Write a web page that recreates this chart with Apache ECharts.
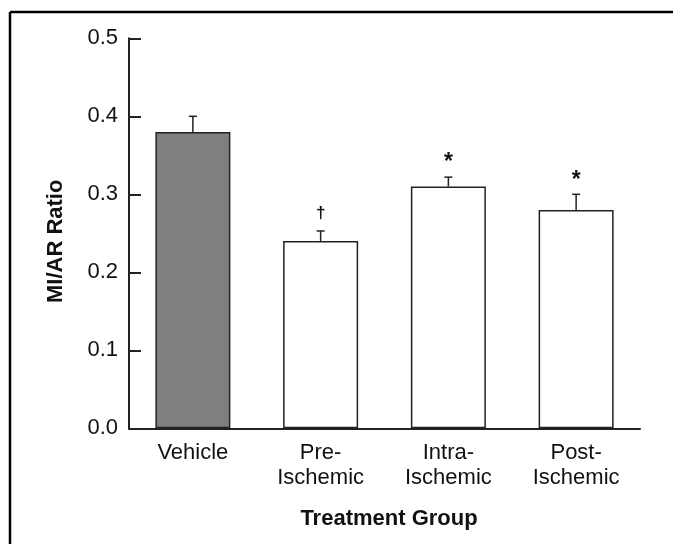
<!DOCTYPE html>
<html>
<head>
<meta charset="utf-8">
<script src="https://cdn.jsdelivr.net/npm/echarts@6/dist/echarts.min.js"></script>
<style>
  html, body { margin: 0; padding: 0; background: #fff; }
  #chart { width: 673px; height: 544px; }
</style>
</head>
<body>
<div id="chart"></div>
<script>
// ---- data ----
const categories = ['Vehicle', 'Pre-\nIschemic', 'Intra-\nIschemic', 'Post-\nIschemic'];
const meanRatio = [0.38, 0.24, 0.31, 0.28];
const semRatio = [0.02, 0.013, 0.012, 0.02];
const markers = ['', '\u2020', '*', '*'];
const yTicks = { min: 0, max: 0.5, interval: 0.1 };
const xAxisTitle = 'Treatment Group';
const yAxisTitle = 'MI/AR Ratio';

const FONT = '"Liberation Sans", Arial, Helvetica, sans-serif';
const INK = '#111111';

const chart = echarts.init(document.getElementById('chart'), null, { renderer: 'canvas' });

const errorData = categories.map((c, i) => [i, meanRatio[i], meanRatio[i] + semRatio[i]]);

const option = {
  backgroundColor: '#ffffff',
  animation: false,
  graphic: [
    { type: 'line', shape: { x1: 10, y1: 12, x2: 673, y2: 12 }, style: { stroke: '#000', lineWidth: 2.5 } },
    { type: 'line', shape: { x1: 10, y1: 12, x2: 10, y2: 544 }, style: { stroke: '#000', lineWidth: 2.5 } }
  ],
  grid: { left: 129, right: 33, top: 38.3, bottom: 115.7, containLabel: false },
  xAxis: {
    type: 'category',
    data: categories,
    name: xAxisTitle,
    nameLocation: 'middle',
    nameGap: 80,
    nameTextStyle: { fontFamily: FONT, fontSize: 22, fontWeight: 'bold', color: INK, padding: [0, 0, 0, 9] },
    axisLine: { lineStyle: { color: '#222', width: 2 } },
    axisTick: { show: false },
    axisLabel: { fontFamily: FONT, fontSize: 22, color: INK, margin: 12, lineHeight: 25 }
  },
  yAxis: {
    type: 'value',
    min: yTicks.min,
    max: yTicks.max,
    interval: yTicks.interval,
    name: yAxisTitle,
    nameLocation: 'middle',
    nameGap: 62,
    nameRotate: 90,
    nameTextStyle: { fontFamily: FONT, fontSize: 22, fontWeight: 'bold', color: INK, padding: [0, 16, 0, 0] },
    axisLine: { show: true, lineStyle: { color: '#222', width: 2 } },
    axisTick: { show: true, inside: true, length: 12, lineStyle: { color: '#222', width: 2 } },
    splitLine: { show: false },
    axisLabel: {
      fontFamily: FONT, fontSize: 22, color: INK, margin: 11,
      formatter: v => v.toFixed(1)
    }
  },
  series: [
    {
      type: 'bar',
      data: meanRatio,
      barWidth: 75,
      itemStyle: {
        color: p => (p.dataIndex === 0 ? '#7f7f7f' : '#ffffff'),
        borderColor: '#222',
        borderWidth: 1.5
      },
      z: 2
    },
    {
      type: 'custom',
      data: errorData,
      z: 3,
      renderItem: (params, api) => {
        const i = api.value(0);
        const base = api.coord([i, api.value(1)]);
        const top = api.coord([i, api.value(2)]);
        const capHalf = 4;
        const children = [
          { type: 'line', shape: { x1: base[0], y1: base[1], x2: top[0], y2: top[1] }, style: { stroke: '#222', lineWidth: 1.5 } },
          { type: 'line', shape: { x1: top[0] - capHalf, y1: top[1], x2: top[0] + capHalf, y2: top[1] }, style: { stroke: '#222', lineWidth: 1.5 } }
        ];
        const m = markers[params.dataIndex];
        if (m) {
          const isDagger = m === '\u2020';
          children.push({
            type: 'text',
            style: {
              text: m,
              x: top[0],
              y: top[1] - (isDagger ? 18 : 14),
              align: 'center',
              verticalAlign: 'middle',
              fontFamily: FONT,
              fontSize: isDagger ? 17 : 23,
              fontWeight: 'bold',
              fill: INK
            }
          });
        }
        return { type: 'group', children };
      }
    }
  ]
};

chart.setOption(option);
</script>
</body>
</html>
